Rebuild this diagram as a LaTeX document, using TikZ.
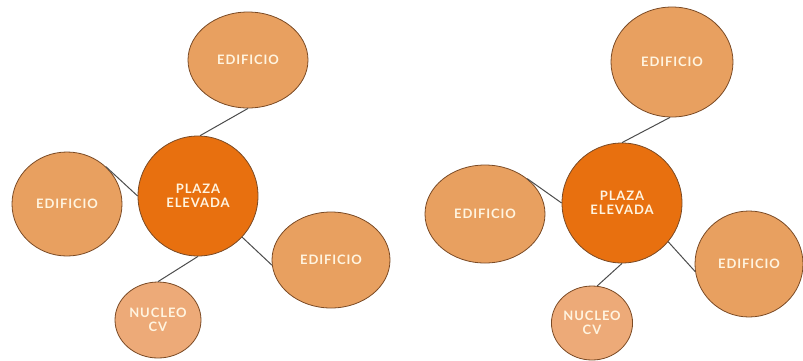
\documentclass[tikz,border=0pt]{standalone}
\usepackage{fontspec}
\setmainfont{Lato}[LetterSpace=7]
\usetikzlibrary{shapes.geometric}
\definecolor{plazacol}{HTML}{E8700F}
\definecolor{edifcol}{HTML}{E8A060}
\definecolor{nucleocol}{HTML}{EDAA78}
\definecolor{rimcol}{HTML}{7A4A25}
\definecolor{txtcol}{HTML}{FFF4E0}
\begin{document}
\begin{tikzpicture}[x=1pt,y=-1pt,
    bubble/.style={ellipse,draw=rimcol,line width=0.8pt,inner sep=0pt,
        text=txtcol,font=\bfseries\fontsize{13}{14.5}\selectfont,align=center},
    plaza/.style={bubble,fill=plazacol,minimum width=#1,minimum height=#1},
    edif/.style 2 args={bubble,fill=edifcol,minimum width=#1,minimum height=#2},
    nucleo/.style 2 args={bubble,fill=nucleocol,minimum width=#1,minimum height=#2},
    link/.style={draw=black!70,line width=1pt}]
  \useasboundingbox (0,0) rectangle (803,360);
  % left scheme
  \node[plaza=120] (pA) at (198,196) {PLAZA\\ELEVADA};
  \node[edif={120}{96}] (eA1) at (248,60) {EDIFICIO};
  \node[edif={110}{104}] (eA2) at (67,204) {EDIFICIO};
  \node[edif={118}{96}] (eA3) at (331,260) {EDIFICIO};
  \node[nucleo={86}{76}] (nA) at (158,320) {NUCLEO\\CV};
  \draw[link] (pA.88) -- (eA1.-90);
  \draw[link] (pA.west) -- (eA2.44);
  \draw[link] (pA.-43) -- (eA3.185);
  \draw[link] (pA.south) -- (nA.north);
  % right scheme
  \node[plaza=120] (pB) at (622,203) {PLAZA\\ELEVADA};
  \node[edif={122}{110}] (eB1) at (672,62) {EDIFICIO};
  \node[edif={120}{98}] (eB2) at (485,214) {EDIFICIO};
  \node[edif={108}{106}] (eB3) at (749,264) {EDIFICIO};
  \node[nucleo={80}{74}] (nB) at (592,323) {NUCLEO\\CV};
  \draw[link] (pB.north) -- (eB1.-92);
  \draw[link] (pB.west) -- (eB2.40);
  \draw[link] (pB.-40) -- (eB3.188);
  \draw[link] (pB.south) -- (nB.82);
\end{tikzpicture}
\end{document}
